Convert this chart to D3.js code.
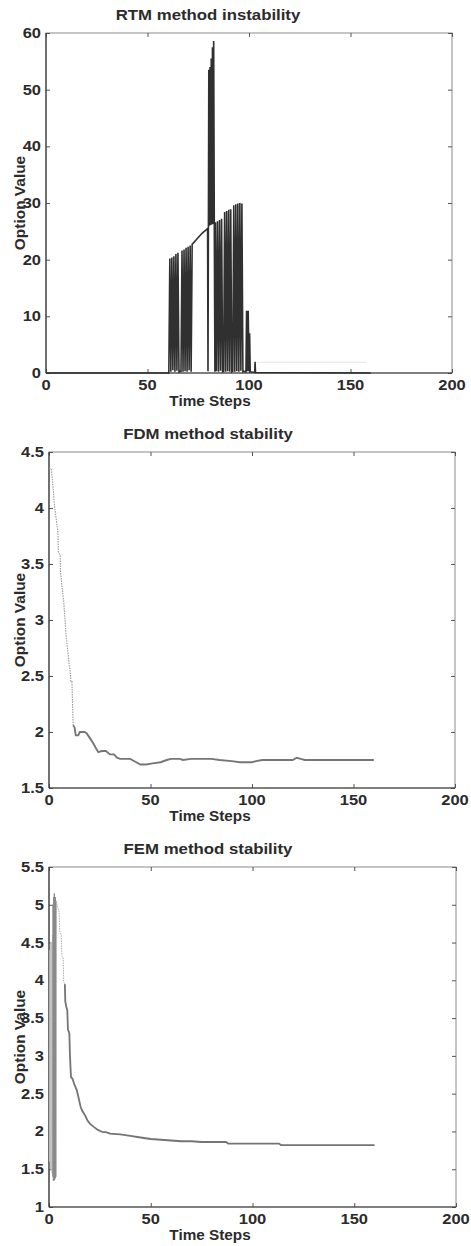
<!DOCTYPE html>
<html><head><meta charset="utf-8">
<script src="https://cdn.jsdelivr.net/npm/d3@7"></script>
<style>
body{margin:0;background:#fff}
text{font-family:"Liberation Sans",Arial,Helvetica,sans-serif;fill:#2b2b2b;font-size:15px}
text.b{font-weight:bold}
</style>
</head><body>
<svg id="c" width="471" height="1246"></svg>
<script>
// ---------- data ----------
const xTicks = [0, 50, 100, 150, 200];
const titles = ["RTM method instability", "FDM method stability", "FEM method stability"];
const xLabel = "Time Steps";
const yLabel = "Option Value";
const rtmTicks = [0, 10, 20, 30, 40, 50, 60];
const fdmTicks = [1.5, 2, 2.5, 3, 3.5, 4, 4.5];
const femTicks = [1, 1.5, 2, 2.5, 3, 3.5, 4, 4.5, 5, 5.5];

// [time step, option value]
const rtmSeries = [
  [0,0],[60.5,0],
  [61,20.2],[61.5,0.2],[62,20.4],[62.5,0.5],[63,20.6],[63.5,0.2],[64,21.0],[64.5,0.4],[65,21.2],[65.5,0.2],
  [66.5,0.3],[67,21.6],[67.5,0.2],[68,21.8],[68.5,0.3],[69,22.1],[69.5,0.2],[70,22.3],[70.5,0.5],[71,22.5],[71.5,0.2],[72,22.7],
  [72.5,22.9],[73,23.1],[74,23.5],[75,23.9],[76,24.3],[77,24.7],[78,25.0],[79,25.3],[79.6,25.5],
  [79.8,0.3],[80,25.7],
  [80.2,53.5],[80.5,26.0],[80.8,54.0],[81.1,26.1],[81.4,55.5],[81.7,26.2],[82,57.5],[82.3,26.3],[82.6,58.6],[82.9,26.4],
  [83.2,0.2],[83.5,26.6],[84,0.3],[84.5,26.8],[85,0.2],[85.5,27.0],[86,0.4],[86.5,27.2],[87,0.2],[87.5,0.3],
  [88,28.4],[88.5,0.2],[89,28.6],[89.5,0.3],[90,28.8],[90.5,0.2],[91,28.9],[91.5,0.2],[92,0.3],
  [92.5,29.6],[93,0.2],[93.5,29.8],[94,0.3],[94.5,29.9],[95,0.2],[95.5,30.0],[96,0.4],[96.5,29.9],[97,0.2],
  [97.5,0.3],[98.5,0.2],[98.8,11.0],[99.2,0.3],[99.6,11.0],[100,0.3],[100.3,7.0],[100.6,0.2],
  [102.8,0.1],[103,2.0],[103.2,0.1],[160,0]
];
const rtmFaint = [[104,1.9],[158,1.9]];

const fdmSeries = [
  [0,4.35],[1.2,4.35],[1.4,4.30],[2.2,4.14],[2.4,4.07],[3,3.98],[3.2,3.95],[4.4,3.78],[4.6,3.61],[5.5,3.58],
  [5.7,3.42],[7,3.20],[7.2,3.18],[8.5,2.84],[8.7,2.82],[10,2.59],[10.2,2.58],[10.8,2.45],[11.3,2.45],[11.9,2.06],
  [12.6,2.04],[13.2,1.97],[14.4,1.97],[15.2,2.0],[17.5,2.0],[18.5,1.99],[20,1.95],[21.8,1.90],[23,1.86],[24.3,1.82],
  [26,1.83],[28,1.83],[30,1.80],[32,1.80],[33.5,1.77],[35,1.76],[40,1.76],[43,1.73],[45,1.71],[48,1.71],
  [51,1.72],[55,1.73],[58,1.75],[60,1.76],[64.5,1.76],[66,1.75],[70,1.76],[80,1.76],[84,1.75],[90,1.74],
  [94,1.73],[100,1.73],[102,1.74],[105,1.75],[120,1.75],[122,1.77],[124,1.76],[126,1.75],[140,1.75],[150,1.75],[160,1.75]
];

const femSeries = [
  [0.3,1.6],[0.5,4.4],[0.7,1.5],[0.9,4.5],[1.1,1.5],[1.3,4.5],[1.5,1.45],[1.7,4.6],[1.9,1.4],
  [2.0,5.0],[2.15,1.35],[2.3,5.1],[2.45,1.35],[2.6,5.15],[2.75,1.36],[2.9,5.1],[3.05,1.38],[3.2,5.1],[3.35,1.4],[3.5,5.05],
  [4.5,4.95],[5,4.9],[5.3,4.65],[6,4.6],[6.3,4.33],[7,4.30],[7.2,3.98],[7.8,3.95],[8,3.72],[8.5,3.65],
  [9,3.60],[9.3,3.35],[10,3.30],[10.3,3.0],[10.8,2.72],[11.5,2.70],[12.5,2.62],[13.6,2.55],[14.5,2.45],[15.5,2.33],
  [16.2,2.28],[18,2.20],[19,2.14],[20.2,2.10],[22,2.06],[24,2.02],[26.5,1.99],[28,1.99],[30,1.97],[35,1.96],
  [40,1.94],[45,1.92],[50,1.90],[55,1.89],[60,1.88],[65,1.87],[70,1.87],[75,1.86],[87,1.86],[88,1.84],
  [100,1.84],[113,1.84],[114,1.82],[130,1.82],[160,1.82]
];

// ---------- layout ----------
const svg = d3.select("#c");
const panels = [
  {title: titles[0], data: rtmSeries, yDomain: [0, 60], yTicks: rtmTicks, x0: 46, x1: 452, y0: 33, y1: 373,
   segs: [{a: -1, b: 999, color: "#303030", w: 1.6}], faint: rtmFaint},
  {title: titles[1], data: fdmSeries, yDomain: [1.5, 4.5], yTicks: fdmTicks, x0: 49, x1: 455, y0: 452, y1: 788,
   segs: [{a: -1, b: 11.9, color: "#9a9a9a", w: 1.1, dash: "1.5,1"}, {a: 11.9, b: 999, color: "#767676", w: 1.9}]},
  {title: titles[2], data: femSeries, yDomain: [1, 5.5], yTicks: femTicks, x0: 49, x1: 456, y0: 867, y1: 1207,
   segs: [{a: -1, b: 1.9, color: "#c4c4c4", w: 1}, {a: 1.9, b: 3.5, color: "#8a8a8a", w: 1},
          {a: 3.5, b: 7.8, color: "#b0b0b0", w: 1, dash: "1.5,1"}, {a: 7.8, b: 999, color: "#747474", w: 1.8}]}
];

panels.forEach(p => {
  const x = d3.scaleLinear().domain([0, 200]).range([p.x0, p.x1]);
  const y = d3.scaleLinear().domain(p.yDomain).range([p.y1, p.y0]);
  const g = svg.append("g");

  // box
  g.append("rect").attr("x", p.x0).attr("y", p.y0).attr("width", p.x1 - p.x0).attr("height", p.y1 - p.y0)
    .attr("fill", "none").attr("stroke", "#8a8a8a").attr("stroke-width", 1);

  // inward ticks on four sides
  const styleAxis = sel => { sel.select(".domain").remove(); sel.selectAll("line").attr("stroke", "#555"); sel.selectAll("text").remove(); };
  g.append("g").attr("transform", `translate(0,${p.y1})`).call(d3.axisBottom(x).tickValues(xTicks).tickSize(-4)).call(styleAxis);
  g.append("g").attr("transform", `translate(0,${p.y0})`).call(d3.axisTop(x).tickValues(xTicks).tickSize(-4)).call(styleAxis);
  g.append("g").attr("transform", `translate(${p.x0},0)`).call(d3.axisLeft(y).tickValues(p.yTicks).tickSize(-4)).call(styleAxis);
  g.append("g").attr("transform", `translate(${p.x1},0)`).call(d3.axisRight(y).tickValues(p.yTicks).tickSize(-4)).call(styleAxis);

  // darker left & bottom edges
  g.append("line").attr("x1", p.x0).attr("x2", p.x0).attr("y1", p.y0).attr("y2", p.y1).attr("stroke", "#3a3a3a").attr("stroke-width", 1.2);
  g.append("line").attr("x1", p.x0).attr("x2", p.x1).attr("y1", p.y1).attr("y2", p.y1).attr("stroke", "#3a3a3a").attr("stroke-width", 1.2);

  // series
  const line = d3.line().x(d => x(d[0])).y(d => y(d[1]));
  if (p.faint) g.append("path").attr("d", line(p.faint)).attr("fill", "none").attr("stroke", "#e6e6e6").attr("stroke-width", 1);
  p.segs.forEach(s => {
    const pts = p.data.filter(d => d[0] >= s.a && d[0] <= s.b);
    const path = g.append("path").attr("d", line(pts)).attr("fill", "none")
      .attr("stroke", s.color).attr("stroke-width", s.w).attr("stroke-linejoin", "miter");
    if (s.dash) path.attr("stroke-dasharray", s.dash);
  });

  // tick labels
  xTicks.forEach(t => {
    g.append("text").attr("class", "b").attr("transform", `translate(${x(t)},${p.y1 + 17}) scale(1.1,1)`)
      .attr("text-anchor", "middle").text(t);
  });
  p.yTicks.forEach(v => {
    g.append("text").attr("class", "b").attr("transform", `translate(${p.x0 - 5},${y(v) + 5}) scale(1.1,1)`)
      .attr("text-anchor", "end").text(v);
  });

  // title & axis labels
  g.append("text").attr("transform", `translate(208,${p.y0 - 13}) scale(1.12,1)`)
    .attr("text-anchor", "middle").style("font-weight", 600).text(p.title);
  g.append("text").attr("class", "b").attr("transform", `translate(210,${p.y1 + 33}) scale(1.02,1)`)
    .attr("text-anchor", "middle").text(xLabel);
  g.append("text").attr("class", "b").attr("transform", `translate(25,${(p.y0 + p.y1) / 2}) rotate(-90) scale(1.03,1)`)
    .attr("text-anchor", "middle").text(yLabel);
});
</script>
</body></html>
